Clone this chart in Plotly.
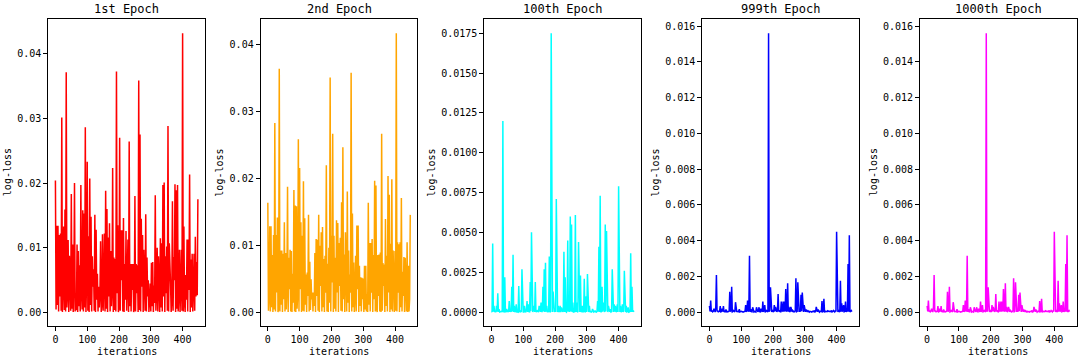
import plotly.graph_objects as go

# x values: training iterations (sampled every 2 iterations)
iterations = list(range(0, 449, 2))

# log-loss values
# 1st / 2nd epoch in units of 1e-4
loss_1st_e4 = [
    204, 5, 134, 12, 134, 2, 120, 25, 122, 3, 301, 1, 40, 133, 4, 159, 2, 371, 8, 30,
    112, 1, 88, 15, 3, 183, 6, 105, 1, 45, 200, 2, 20, 4, 105, 1, 95, 10, 73, 2,
    197, 30, 5, 158, 2, 153, 8, 286, 1, 50, 233, 3, 118, 1, 207, 12, 148, 2, 87, 40,
    67, 3, 151, 1, 128, 20, 60, 2, 40, 8, 30, 110, 1, 15, 121, 3, 45, 122, 2, 188,
    6, 160, 1, 116, 25, 138, 2, 95, 10, 35, 223, 1, 85, 4, 83, 2, 372, 30, 135, 1,
    8, 270, 3, 127, 50, 127, 2, 146, 1, 75, 20, 126, 3, 45, 113, 1, 264, 10, 75, 2,
    75, 35, 75, 1, 6, 180, 2, 75, 30, 73, 1, 358, 4, 275, 2, 145, 40, 120, 1, 97,
    12, 3, 152, 2, 85, 25, 50, 1, 20, 45, 2, 77, 10, 78, 1, 42, 15, 181, 3, 30,
    100, 2, 87, 40, 1, 115, 8, 107, 2, 197, 25, 201, 1, 87, 30, 102, 3, 288, 2, 107,
    45, 45, 1, 20, 172, 3, 86, 50, 198, 1, 189, 6, 197, 2, 30, 97, 1, 40, 97, 3,
    431, 2, 133, 15, 1, 58, 20, 113, 2, 113, 35, 213, 1, 82, 8, 91, 2, 40, 91, 3,
    117, 25, 78, 27, 175,
]
loss_2nd_e4 = [
    164, 3, 25, 129, 2, 129, 8, 86, 1, 116, 5, 283, 2, 116, 30, 142, 1, 6, 364, 2,
    93, 12, 93, 1, 88, 20, 135, 2, 89, 5, 40, 188, 1, 82, 35, 94, 2, 92, 1, 58,
    15, 183, 2, 160, 1, 159, 6, 30, 259, 2, 216, 35, 135, 1, 115, 3, 196, 2, 141, 12,
    57, 1, 60, 25, 146, 2, 76, 4, 50, 20, 30, 2, 30, 10, 89, 1, 110, 25, 109, 3,
    146, 1, 100, 40, 120, 2, 128, 8, 80, 1, 85, 30, 220, 2, 73, 1, 97, 15, 351, 2,
    115, 45, 267, 1, 115, 6, 82, 2, 138, 30, 134, 1, 104, 40, 112, 3, 165, 2, 247, 20,
    87, 1, 120, 10, 2, 181, 15, 93, 1, 57, 30, 358, 2, 148, 8, 75, 1, 25, 85, 2,
    130, 35, 130, 1, 70, 10, 53, 2, 52, 20, 51, 1, 70, 5, 70, 2, 28, 1, 164, 12,
    104, 2, 104, 30, 110, 1, 86, 20, 197, 2, 190, 6, 1, 86, 25, 87, 2, 90, 1, 267,
    3, 74, 40, 72, 1, 140, 10, 85, 2, 204, 30, 176, 1, 103, 5, 199, 2, 93, 20, 1,
    92, 3, 417, 2, 105, 30, 102, 1, 105, 8, 171, 2, 61, 25, 83, 1, 82, 15, 2, 105,
    1, 70, 2, 20, 146,
]
# 100th / 999th / 1000th epoch in units of 1e-5
loss_100th_e5 = [
    5, 2, 431, 3, 40, 2, 5, 1, 40, 3, 119, 2, 20, 1, 4, 2, 6, 1, 1200, 3,
    2, 219, 1, 4, 20, 2, 8, 1, 70, 3, 12, 2, 160, 5, 360, 2, 40, 1, 6, 50,
    2, 3, 1, 165, 4, 2, 8, 1, 269, 3, 2, 1, 40, 5, 2, 10, 70, 1, 50, 3,
    2, 190, 6, 502, 2, 1, 40, 3, 2, 190, 1, 5, 10, 2, 1, 40, 3, 2, 60, 1,
    8, 160, 4, 270, 2, 310, 3, 40, 1, 6, 2, 350, 4, 1, 1750, 3, 2, 130, 5, 1,
    20, 2, 710, 3, 1, 40, 2, 6, 40, 1, 30, 3, 2, 8, 380, 2, 220, 5, 1, 15,
    450, 3, 110, 2, 600, 4, 550, 2, 60, 1, 5, 3, 610, 2, 60, 1, 4, 440, 3, 2,
    230, 1, 6, 40, 2, 3, 210, 1, 4, 100, 2, 240, 3, 1, 40, 2, 5, 1, 3, 20,
    2, 1, 4, 10, 2, 1, 5, 70, 3, 410, 2, 730, 4, 1, 160, 3, 60, 2, 1, 550,
    5, 510, 2, 1, 40, 3, 2, 20, 1, 4, 270, 2, 1, 50, 3, 40, 2, 6, 50, 1,
    790, 3, 2, 40, 1, 5, 50, 2, 8, 260, 3, 1, 40, 2, 4, 30, 1, 3, 6, 370,
    2, 160, 3, 10, 2,
]
loss_999th_e5 = [
    35, 5, 65, 3, 10, 2, 5, 20, 3, 1, 30, 208, 4, 10, 2, 3, 5, 35, 2, 4,
    20, 3, 35, 2, 5, 1, 15, 3, 5, 2, 4, 6, 115, 3, 10, 143, 2, 4, 10, 3,
    2, 56, 4, 2, 5, 1, 3, 17, 2, 4, 5, 2, 3, 1, 3, 2, 5, 40, 3, 8,
    65, 4, 10, 316, 2, 17, 3, 2, 28, 4, 2, 5, 3, 1, 28, 4, 2, 6, 28, 3,
    2, 20, 4, 2, 60, 3, 8, 40, 2, 4, 10, 3, 2, 1560, 4, 8, 140, 3, 2, 10,
    4, 2, 40, 5, 30, 3, 2, 8, 102, 4, 10, 3, 2, 60, 4, 8, 60, 3, 60, 5,
    130, 4, 10, 162, 3, 30, 2, 5, 30, 3, 2, 10, 4, 2, 5, 8, 190, 3, 5, 167,
    4, 2, 15, 3, 97, 5, 110, 3, 2, 40, 4, 2, 15, 3, 2, 8, 3, 1, 5, 2,
    3, 1, 5, 2, 3, 10, 2, 4, 30, 3, 2, 15, 3, 1, 5, 2, 4, 63, 3, 5,
    75, 2, 3, 5, 1, 3, 8, 2, 4, 5, 2, 3, 10, 2, 4, 10, 3, 2, 10, 4,
    450, 3, 2, 10, 4, 2, 176, 3, 50, 4, 8, 40, 3, 5, 60, 2, 10, 4, 270, 3,
    430, 2, 4, 10, 3,
]
loss_1000th_e5 = [
    35, 5, 65, 3, 10, 2, 5, 20, 3, 1, 30, 208, 4, 10, 2, 3, 5, 35, 2, 4,
    20, 3, 35, 2, 5, 1, 15, 3, 5, 2, 4, 6, 115, 3, 10, 143, 2, 4, 10, 3,
    2, 56, 4, 2, 5, 1, 3, 17, 2, 4, 5, 2, 3, 1, 3, 2, 5, 40, 3, 8,
    65, 4, 10, 316, 2, 17, 3, 2, 28, 4, 2, 5, 3, 1, 28, 4, 2, 6, 28, 3,
    2, 20, 4, 2, 60, 3, 8, 40, 2, 4, 10, 3, 2, 1560, 4, 8, 140, 3, 2, 10,
    4, 2, 40, 5, 30, 3, 2, 8, 102, 4, 10, 3, 2, 60, 4, 8, 60, 3, 60, 5,
    130, 4, 10, 162, 3, 30, 2, 5, 30, 3, 2, 10, 4, 2, 5, 8, 190, 3, 5, 167,
    4, 2, 15, 3, 97, 5, 110, 3, 2, 40, 4, 2, 15, 3, 2, 8, 3, 1, 5, 2,
    3, 1, 5, 2, 3, 10, 2, 4, 30, 3, 2, 15, 3, 1, 5, 2, 4, 63, 3, 5,
    75, 2, 3, 5, 1, 3, 8, 2, 4, 5, 2, 3, 10, 2, 4, 10, 3, 2, 10, 4,
    450, 3, 2, 10, 4, 2, 176, 3, 50, 4, 8, 40, 3, 5, 60, 2, 10, 4, 270, 3,
    430, 2, 4, 10, 3,
]

titles = ["1st Epoch", "2nd Epoch", "100th Epoch", "999th Epoch", "1000th Epoch"]
colors = ["red", "orange", "cyan", "blue", "magenta"]
series = [
    [v * 1e-4 for v in loss_1st_e4],
    [v * 1e-4 for v in loss_2nd_e4],
    [v * 1e-5 for v in loss_100th_e5],
    [v * 1e-5 for v in loss_999th_e5],
    [v * 1e-5 for v in loss_1000th_e5],
]
ytick_step = [0.01, 0.01, 0.0025, 0.002, 0.002]
ytick_fmt = [".2f", ".2f", ".4f", ".3f", ".3f"]

W, H = 1080, 360
box_left = [48.3, 260.7, 484.3, 702.3, 920.0]
box_w = 156.7
box_top, box_bot = 19.3, 326.0
ylabel_x = [7.5, 220.0, 432.0, 656.0, 873.5]

FONT = "DejaVu Sans Mono"
fig = go.Figure()
layout = dict(
    width=W, height=H, margin=dict(l=0, r=0, t=0, b=0, autoexpand=False),
    paper_bgcolor="white", plot_bgcolor="white", showlegend=False,
    font=dict(family=FONT, size=10, color="black"),
)
annotations = []

for i in range(5):
    n = i + 1
    xk = "xaxis" if n == 1 else f"xaxis{n}"
    yk = "yaxis" if n == 1 else f"yaxis{n}"
    xr = "x" if n == 1 else f"x{n}"
    yr = "y" if n == 1 else f"y{n}"
    ys = series[i]
    xs = iterations[: len(ys)]
    fig.add_trace(go.Scatter(x=xs, y=ys, mode="lines", xaxis=xr, yaxis=yr,
                             line=dict(color=colors[i], width=1.5)))
    xlo, xhi = min(xs), max(xs)
    ylo, yhi = min(ys), max(ys)
    xp = 0.05 * (xhi - xlo)
    yp = 0.05 * (yhi - ylo)
    x0 = box_left[i] / W
    x1 = (box_left[i] + box_w) / W
    common = dict(showgrid=False, zeroline=False, showline=True, mirror=True,
                  linecolor="black", linewidth=1, ticks="outside", ticklen=4,
                  tickwidth=1, tickcolor="black", automargin=False,
                  tickfont=dict(family=FONT, size=10, color="black"))
    layout[xk] = dict(common, domain=[x0, x1], range=[xlo - xp, xhi + xp],
                      tickmode="array", tickvals=[0, 100, 200, 300, 400],
                      anchor=yr)
    layout[yk] = dict(common, domain=[1 - box_bot / H, 1 - box_top / H],
                      range=[ylo - yp, yhi + yp], tick0=0, dtick=ytick_step[i],
                      tickformat=ytick_fmt[i], anchor=xr)
    cx = (box_left[i] + box_w / 2) / W
    annotations.append(dict(text=titles[i], x=cx, y=1 - 8.5 / H, xref="paper",
                            yref="paper", xanchor="center", yanchor="middle",
                            showarrow=False, font=dict(family=FONT, size=12)))
    annotations.append(dict(text="iterations", x=cx, y=1 - 351 / H, xref="paper",
                            yref="paper", xanchor="center", yanchor="middle",
                            showarrow=False, font=dict(family=FONT, size=10)))
    annotations.append(dict(text="log-loss", x=ylabel_x[i] / W,
                            y=1 - (box_top + box_bot) / 2 / H, xref="paper",
                            yref="paper", xanchor="center", yanchor="middle",
                            textangle=-90, showarrow=False,
                            font=dict(family=FONT, size=10)))

layout["annotations"] = annotations
fig.update_layout(**layout)
fig.write_html("out.html", config={"displayModeBar": False},
               post_script="document.body.style.margin='0';document.body.style.overflow='hidden';")
